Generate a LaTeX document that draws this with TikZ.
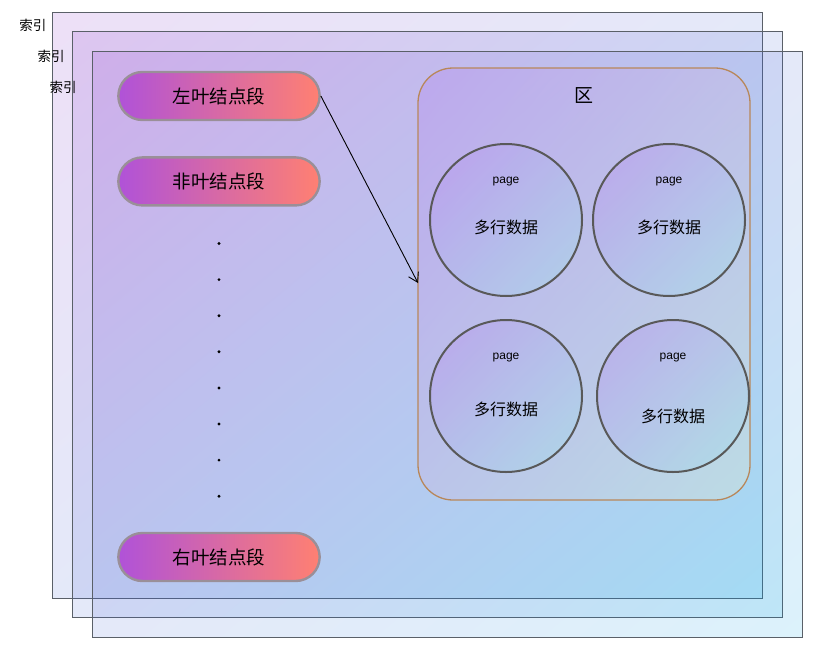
\documentclass[tikz,border=0pt]{standalone}
\usepackage{fontspec}
\setmainfont{Liberation Sans}
\newfontfamily\cjk{Noto Sans CJK SC}
\usetikzlibrary{shapes.misc,shadings,arrows.meta,positioning,calc}
\definecolor{idxtl}{HTML}{8022C6}
\definecolor{idxbr}{HTML}{05A2E2}
\definecolor{edge}{HTML}{5A6068}
\definecolor{pillL}{HTML}{B052D8}
\definecolor{pillR}{HTML}{FF8072}
\definecolor{pillline}{HTML}{9A8F98}
\definecolor{regline}{HTML}{B8875A}
\definecolor{regtl}{HTML}{B080F0}
\definecolor{regbr}{HTML}{EBEAC5}
\definecolor{pgtl}{HTML}{B89CEE}
\definecolor{pgbr}{HTML}{A6D8EA}
\tikzstyle{layer}=[draw=edge, line width=0.9pt, fill opacity=0.14, upper left=idxtl, lower right=idxbr, upper right=idxtl!50!idxbr, lower left=idxtl!50!idxbr]
\tikzstyle{idx}=[font=\cjk\fontsize{13.5}{13.5}\selectfont]
\tikzstyle{pill}=[rounded rectangle, draw=pillline, line width=2.4pt, left color=pillL, right color=pillR, minimum width=208pt, minimum height=48pt, font=\cjk\fontsize{18.5}{18.5}\selectfont]
\tikzstyle{page}=[circle, draw=black!65, line width=2pt, minimum size=152pt, fill opacity=0.45, top color=pgtl, bottom color=pgbr, shading angle=45]
\tikzstyle{link}=[line width=0.9pt,-{Straight Barb[length=9pt,width=11pt]}]

\begin{document}
\begin{tikzpicture}[x=1pt,y=-1pt]
\useasboundingbox (0,0) rectangle (822,648);
% three index layers
\draw[layer] (52,12) rectangle (762,598);
\draw[layer] (72,31) rectangle (782,617);
\draw[layer] (92,51) rectangle (802,637);
\node (idx1) [idx] at (33,25) {索引};
\node (idx2) [idx] at (51,56) {索引};
\node (idx3) [idx] at (63,87) {索引};
% segments
\node (lf) [pill] at (219,96) {左叶结点段};
\node (nl) [pill,below=35pt of lf] {非叶结点段};
\node (rt) [pill] at (219,557) {右叶结点段};
\foreach \i in {0,...,7}
  \fill (219,243.5+36.1*\i) circle (1.6pt);
% extent
\node (reg) [draw=regline, line width=1.3pt, rounded corners=35pt, minimum width=332pt, minimum height=432pt, fill opacity=0.3, upper left=regtl, lower right=regbr, upper right=regtl!50!regbr, lower left=regtl!50!regbr] at (584,284) {};
\node (qu) [font=\cjk\fontsize{19}{19}\selectfont] at (584,96) {区};
\node (pg1) [page] at (506,220) {};
\node (pg2) [page] at (669,220) {};
\node (pg3) [page] at (506,396) {};
\node (pg4) [page] at (673,396) {};
\foreach \n/\d in {pg1/7,pg2/7,pg3/13,pg4/20}{
  \node [font=\fontsize{12}{12}\selectfont] at ($(\n)+(0,-38)$) {page};
  \node [font=\cjk\fontsize{16}{16}\selectfont] at ($(\n)+(0,\d)$) {多行数据};
}
\coordinate (hit) at (418,283);
\draw[link] (lf.east)--(hit);
\end{tikzpicture}
\end{document}
